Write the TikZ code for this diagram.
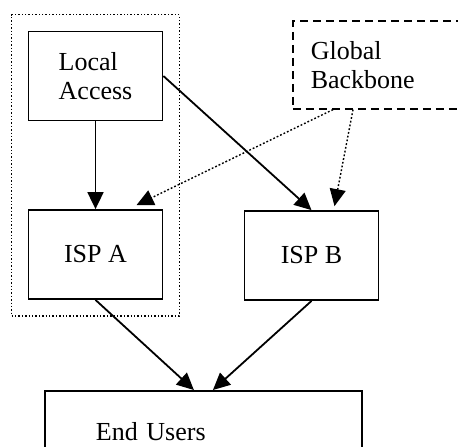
\documentclass[tikz,border=0pt]{standalone}
\usepackage{fontspec}
\setmainfont{Liberation Serif}
\usetikzlibrary{positioning,fit,arrows.meta}

\begin{document}
\begin{tikzpicture}[x=0.5pt, y=-0.5pt, every node/.style={font=\fontsize{13}{14.5}\selectfont},
  box/.style={draw, rectangle, line width=0.9pt, minimum width=67pt, minimum height=44.5pt, align=left},
  link/.style={-{Triangle[length=8.5pt,width=8pt]}, line width=0.9pt},
  hint/.style={link, densely dotted, line width=0.7pt}]
\useasboundingbox (0,0) rectangle (458,446);
\clip (0,0) rectangle (458,446);

% Caixas
\node[box] (local) at (95.5,76) {Local\\Access};
\node[box] (ispa) at (95.5,254.5) {ISP A};
\node[box] (ispb) at (311.5,255.5) {ISP B};
\node[box, dash pattern=on 4pt off 2.5pt, line width=0.8pt, anchor=north west, minimum width=89pt, minimum height=44pt, text width=71pt, inner xsep=9pt] (backbone) at (292,20) {Global\\Backbone};
\node[box, anchor=north west, minimum width=158.5pt, minimum height=41pt, text width=107.5pt, inner xsep=25.5pt] (users) at (44,390) {End Users};

% Grupo pontilhado
\node[draw, densely dotted, line width=0.7pt, fit=(local)(ispa), inner sep=8pt] (grupo) {};

% Setas
\draw[link] (local.south) -- (ispa.north);
\draw[link] (local.east) -- (ispb.north);
\draw[hint] ([shift={(41,0)}]backbone.south west) -- ([shift={(41,-4)}]ispa.north);
\draw[hint] ([shift={(61,0)}]backbone.south west) -- ([shift={(23,-4)}]ispb.north);
\draw[link] (ispa.south) -- ([shift={(-9.5,0)}]users.north);
\draw[link] (ispb.south) -- ([shift={(9.5,0)}]users.north);
\end{tikzpicture}
\end{document}
